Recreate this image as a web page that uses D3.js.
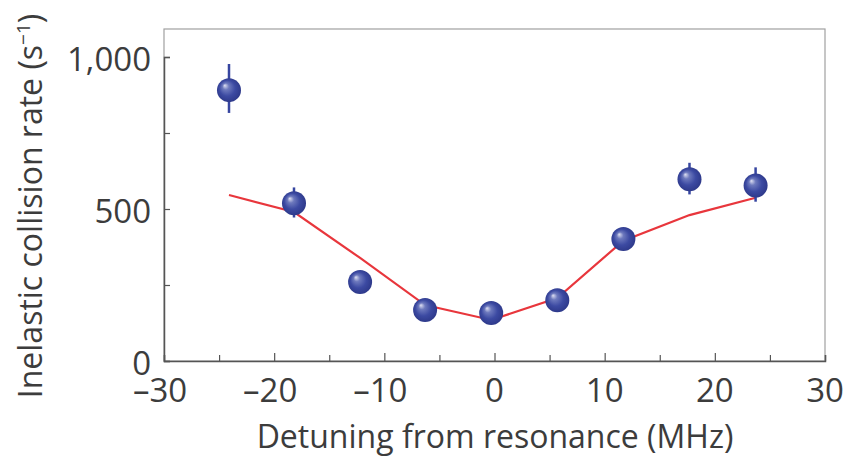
<!DOCTYPE html>
<html>
<head>
<meta charset="utf-8">
<script src="https://cdn.jsdelivr.net/npm/d3@7"></script>
<style>
  body { margin: 0; background: #fff; }
  text { font-family: "Open Sans", "Noto Sans", sans-serif; fill: #3c3c3c; }
</style>
</head>
<body>
<div class="canvas"></div>
<script>
// data
const detuning = [-24.1, -18.2, -12.2, -6.3, -0.3, 5.7, 11.7, 17.7, 23.7];
const rate = [891, 519, 260, 168, 158, 200, 401, 598, 577];
const errLow = [816, 472, 240, 150, 140, 183, 382, 548, 524];
const errHigh = [977, 571, 282, 186, 176, 217, 420, 652, 637];
const fitX = [-24.1, -18.2, -12.2, -6.3, -0.3, 5.7, 11.7, 17.7, 23.7];
const fitY = [546, 490, 339, 184, 135, 207, 396, 480, 537];
const xTicks = [-30, -20, -10, 0, 10, 20, 30];
const yTicks = [0, 500, 1000];

const width = 846, height = 457;
const margin = { left: 164, right: 21, top: 29, bottom: 96 };

const svg = d3.select(".canvas")
  .append("svg")
  .attr("width", width)
  .attr("height", height);

const x = d3.scaleLinear().domain([-30, 30]).range([margin.left, width - margin.right]);
const y = d3.scaleLinear().domain([0, 1000]).range([height - margin.bottom, 57]);

// sphere gradient
const grad = svg.append("defs").append("radialGradient")
  .attr("id", "ball")
  .attr("cx", "50%").attr("cy", "50%").attr("r", "55%")
  .attr("fx", "32%").attr("fy", "30%");
grad.append("stop").attr("offset", "0%").attr("stop-color", "#dfe1f3");
grad.append("stop").attr("offset", "25%").attr("stop-color", "#6d79bd");
grad.append("stop").attr("offset", "60%").attr("stop-color", "#3c4aa2");
grad.append("stop").attr("offset", "100%").attr("stop-color", "#2b3686");

// frame
svg.append("rect")
  .attr("x", margin.left)
  .attr("y", margin.top)
  .attr("width", width - margin.right - margin.left)
  .attr("height", height - margin.bottom - margin.top)
  .attr("fill", "none")
  .attr("stroke", "#a0a0a0")
  .attr("stroke-width", 1.2);

// axes, ticks pointing in
const xAxis = svg.append("g")
  .attr("transform", `translate(0,${height - margin.bottom})`)
  .call(d3.axisBottom(x).tickValues(d3.range(-30, 31, 5)).tickSize(-6).tickFormat(""));
const yAxis = svg.append("g")
  .attr("transform", `translate(${margin.left},0)`)
  .call(d3.axisLeft(y).tickValues(d3.range(0, 1001, 250)).tickSize(-6).tickFormat(""));
[xAxis, yAxis].forEach(a => {
  a.select(".domain").attr("stroke", "#555").attr("stroke-width", 1.5);
  a.selectAll(".tick line").attr("stroke", "#555").attr("stroke-width", 1.2);
});
xAxis.selectAll(".tick line").filter(d => d % 10 === 0 && Math.abs(d) < 30).attr("y2", -8);

// tick labels
const fmt = d3.format(",");
svg.append("g").selectAll("text")
  .data(xTicks)
  .join("text")
  .attr("x", d => x(d) - (d < 0 ? 4 : 0))
  .attr("y", 402)
  .attr("text-anchor", "middle")
  .attr("font-size", 33)
  .text(d => d < 0 ? "\u2013" + Math.abs(d) : d);
svg.append("g").selectAll("text")
  .data(yTicks)
  .join("text")
  .attr("x", 151)
  .attr("y", d => y(d) + 14)
  .attr("text-anchor", "end")
  .attr("font-size", 33)
  .text(d => fmt(d));

// axis titles
svg.append("text")
  .attr("x", 495)
  .attr("y", 448)
  .attr("text-anchor", "middle")
  .attr("font-size", 32)
  .text("Detuning from resonance (MHz)");
const yl = svg.append("text")
  .attr("transform", "translate(42,206) rotate(-90)")
  .attr("text-anchor", "middle")
  .attr("font-size", 32)
  .text("Inelastic collision rate (s");
yl.append("tspan").attr("dy", -12).attr("font-size", 19).text("\u22121");
yl.append("tspan").attr("dy", 12).text(")");

// fit line
const line = d3.line().x((d, i) => x(fitX[i])).y(d => y(d));
svg.append("path")
  .datum(fitY)
  .attr("d", line)
  .attr("fill", "none")
  .attr("stroke", "#e8363c")
  .attr("stroke-width", 2.2);

// error bars
svg.append("g").selectAll("line")
  .data(detuning)
  .join("line")
  .attr("x1", d => x(d)).attr("x2", d => x(d))
  .attr("y1", (d, i) => y(errLow[i]))
  .attr("y2", (d, i) => y(errHigh[i]))
  .attr("stroke", "#3645a0")
  .attr("stroke-width", 2.5);

// points
svg.append("g").selectAll("circle")
  .data(detuning)
  .join("circle")
  .attr("cx", d => x(d))
  .attr("cy", (d, i) => y(rate[i]))
  .attr("r", 12)
  .attr("fill", "url(#ball)");
</script>
</body>
</html>
